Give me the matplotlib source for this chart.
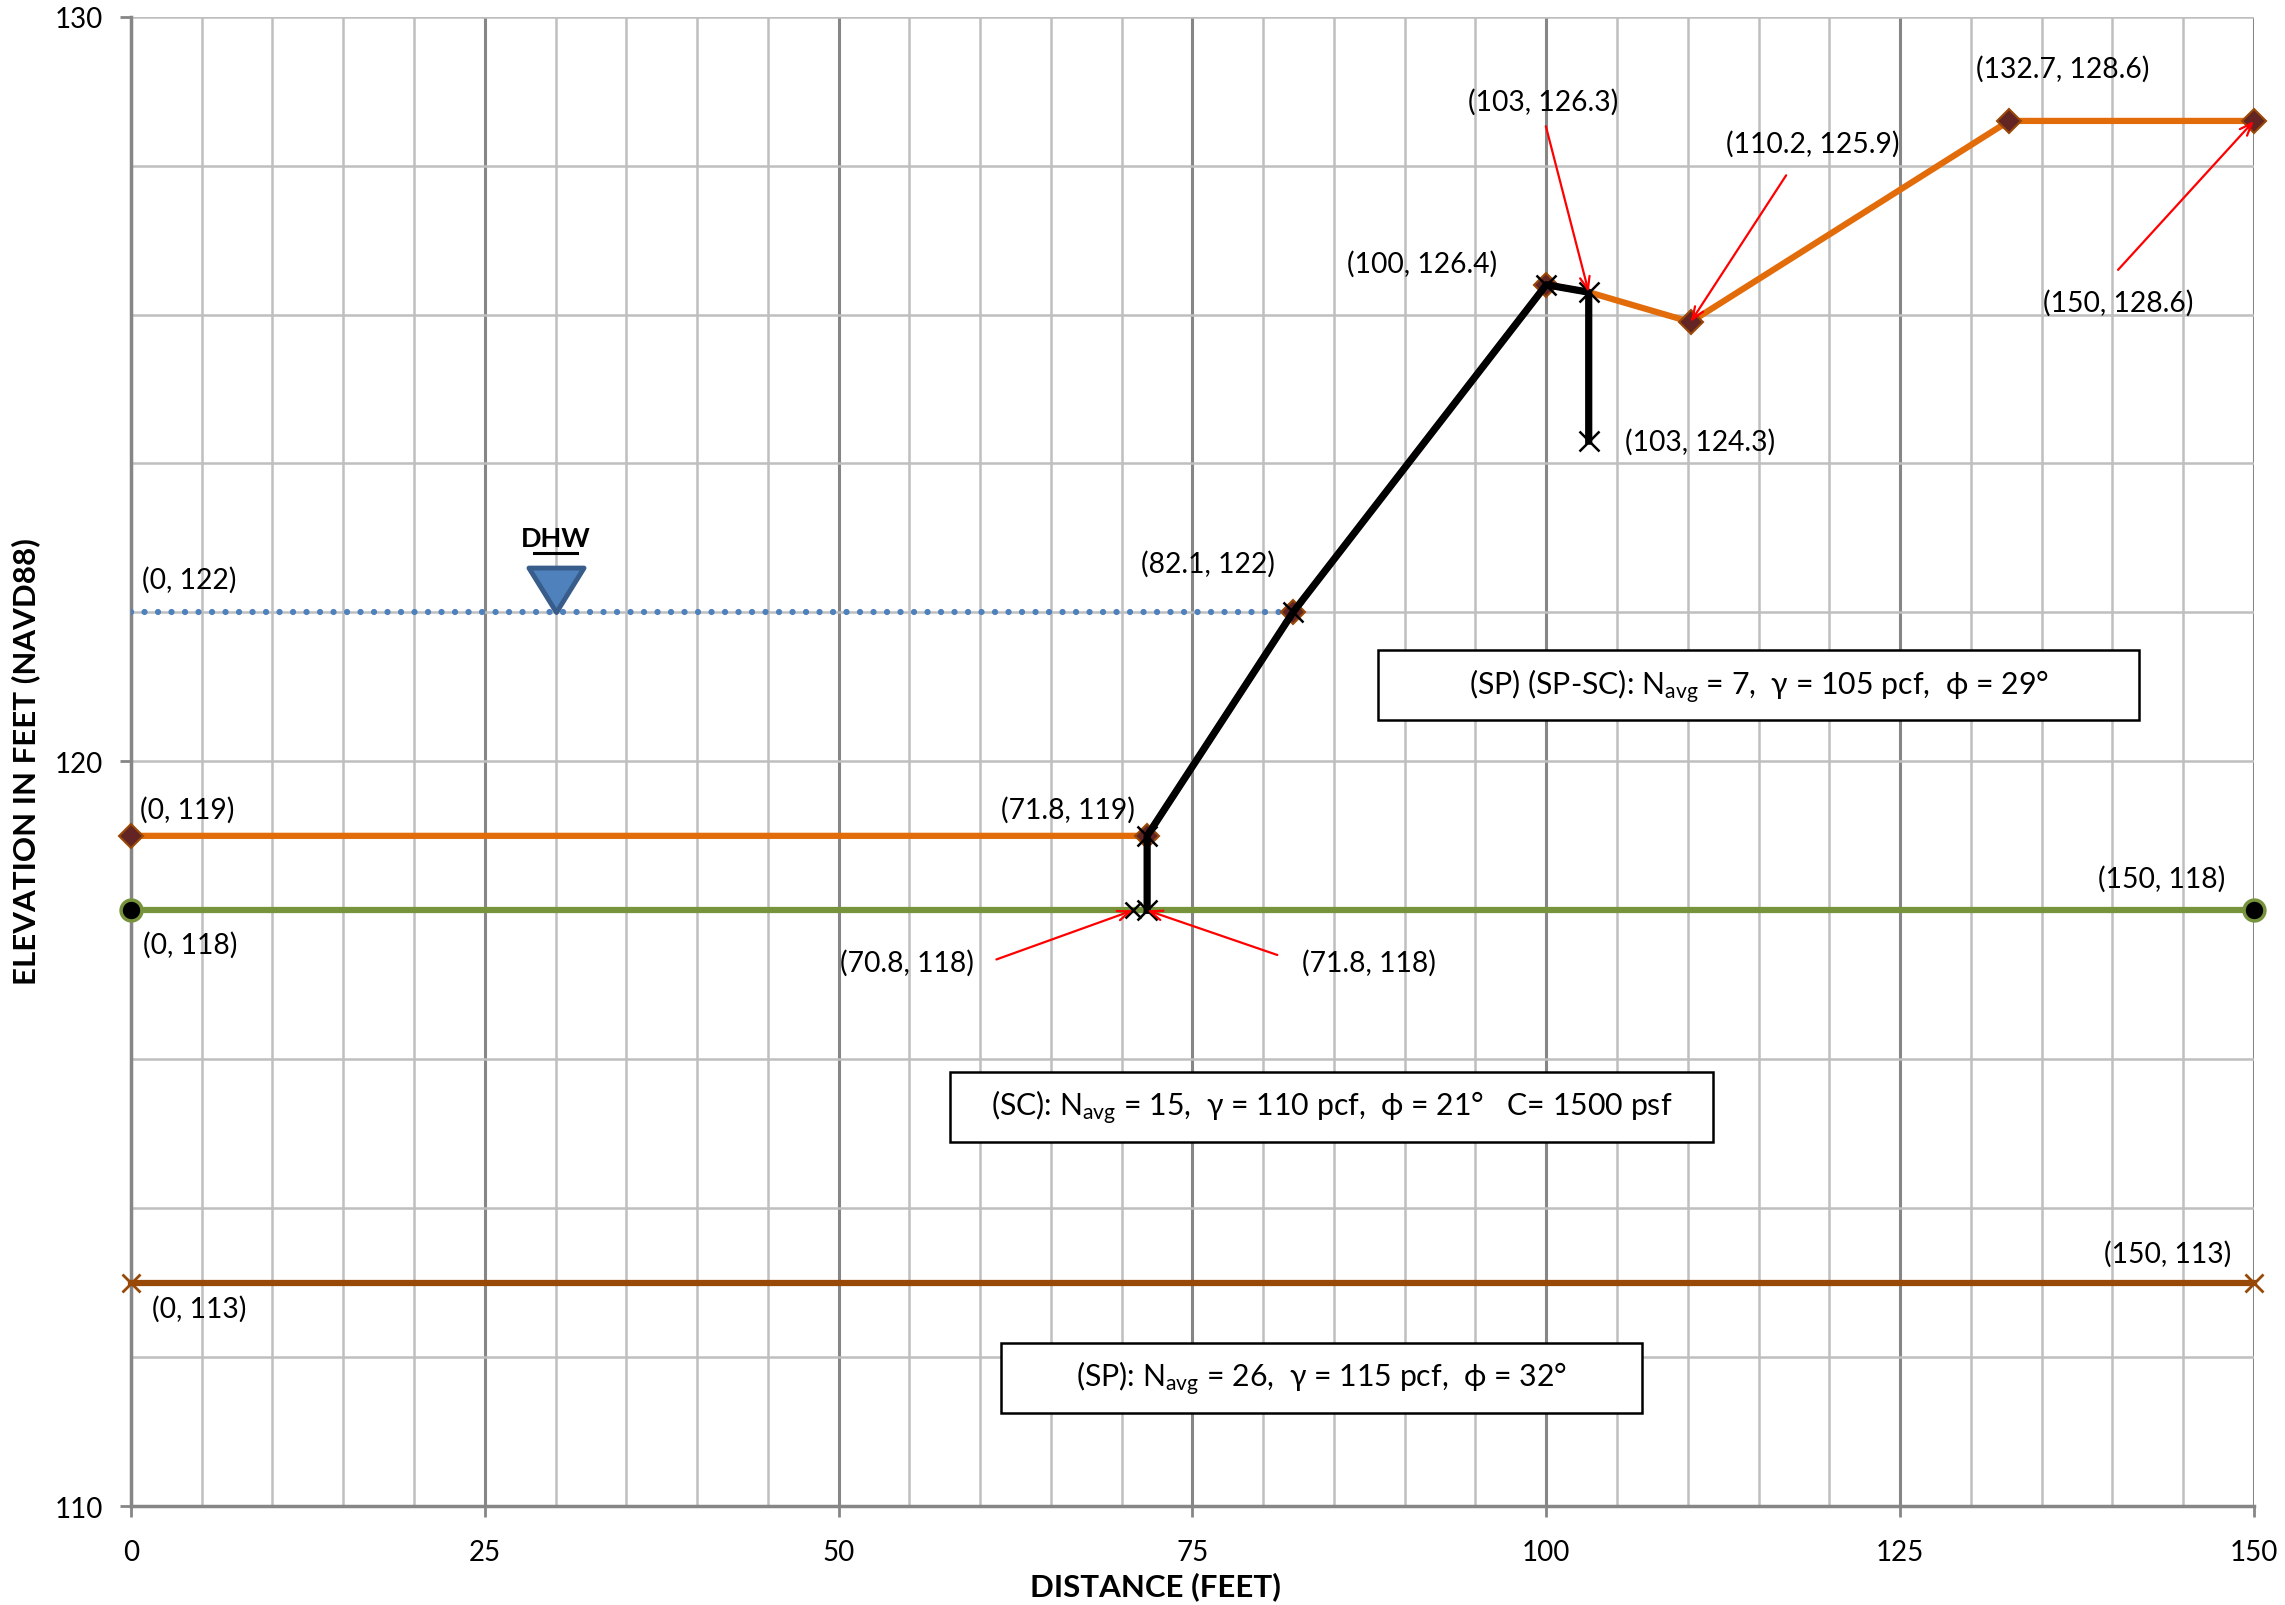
import matplotlib
matplotlib.use("Agg")
import matplotlib.pyplot as plt
from matplotlib.path import Path
from matplotlib.patches import Rectangle

plt.rcParams['font.family'] = ['Lato', 'DejaVu Sans']
plt.rcParams['mathtext.fontset'] = 'custom'
plt.rcParams['mathtext.rm'] = 'Lato'
plt.rcParams['mathtext.it'] = 'Lato'

# ---- profile data (distance ft, elevation ft NAVD88) ----
ground_x = [0, 71.8, 82.1, 100, 103, 110.2, 132.7, 150]
ground_y = [119, 119, 122, 126.4, 126.3, 125.9, 128.6, 128.6]

wall_x = [71.8, 71.8, 82.1, 100, 103, 103]
wall_y = [118, 119, 122, 126.4, 126.3, 124.3]
wall_extra_x = [70.8]
wall_extra_y = [118]

clay_top_x = [0, 150]
clay_top_y = [118, 118]

sand_top_x = [0, 150]
sand_top_y = [113, 113]

dhw_x = [0, 82.1]
dhw_y = [122, 122]
dhw_marker_x = 30
dhw_level = 122

x_ticks = [0, 25, 50, 75, 100, 125, 150]
y_ticks = [110, 120, 130]

# point labels: text, anchor point, label position, arrow?
labels = [
    ("(0, 122)", (0, 122), (4.1, 122.45), False),
    ("(0, 119)", (0, 119), (4.0, 119.35), False),
    ("(0, 118)", (0, 118), (4.2, 117.55), False),
    ("(71.8, 119)", (71.8, 119), (66.2, 119.35), False),
    ("(82.1, 122)", (82.1, 122), (76.1, 122.66), False),
    ("(100, 126.4)", (100, 126.4), (91.2, 126.69), False),
    ("(103, 126.3)", (103, 126.3), (99.8, 128.86), True),
    ("(110.2, 125.9)", (110.2, 125.9), (118.8, 128.3), True),
    ("(132.7, 128.6)", (132.7, 128.6), (136.5, 129.3), False),
    ("(150, 128.6)", (150, 128.6), (140.4, 126.16), True),
    ("(103, 124.3)", (103, 124.3), (110.9, 124.3), False),
    ("(150, 118)", (150, 118), (143.5, 118.43), False),
    ("(70.8, 118)", (70.8, 118), (54.8, 117.3), True),
    ("(71.8, 118)", (71.8, 118), (87.5, 117.3), True),
    ("(150, 113)", (150, 113), (143.9, 113.4), False),
    ("(0, 113)", (0, 113), (4.8, 112.66), False),
]
# arrow tails for labelled points that use a leader
arrow_tails = {
    "(103, 126.3)": (99.97, 128.53),
    "(110.2, 125.9)": (116.95, 127.87),
    "(150, 128.6)": (140.4, 126.6),
    "(70.8, 118)": (61.15, 117.34),
    "(71.8, 118)": (81.0, 117.4),
}

# soil layer descriptions: text, box extents (x0, x1, y0, y1)
layers = [
    (r"(SP) (SP-SC): N$_{\mathrm{avg}}$ = 7,  γ = 105 pcf,  ϕ = 29°", (88.13, 141.87, 120.55, 121.49)),
    (r"(SC): N$_{\mathrm{avg}}$ = 15,  γ = 110 pcf,  ϕ = 21°   C= 1500 psf", (57.86, 111.8, 114.89, 115.83)),
    (r"(SP): N$_{\mathrm{avg}}$ = 26,  γ = 115 pcf,  ϕ = 32°", (61.47, 106.77, 111.25, 112.19)),
]

ORANGE = "#e36c0a"
DIAMOND = "#632523"
DIAMOND_EDGE = "#984807"
GREEN = "#77933c"
BROWN = "#984807"
BLUE = "#4f81bd"
MAJOR = "#868686"
MINOR = "#bfbfbf"

fig = plt.figure(figsize=(22.85, 16.06), dpi=100)
ax = fig.add_axes([0.0573, 0.0616, 0.9291, 0.9274])
ax.set_xlim(0, 150)
ax.set_ylim(110, 130)

# grid
for xv in range(0, 151, 5):
    major = xv % 25 == 0
    ax.axvline(xv, color=MAJOR if major else MINOR, lw=2.2 if major else 1.8, zorder=0)
for yv in range(110, 131, 2):
    ax.axhline(yv, color=MINOR, lw=1.8, zorder=0)

for s in ["top", "right"]:
    ax.spines[s].set_visible(False)
for s in ["left", "bottom"]:
    ax.spines[s].set_color(MAJOR)
    ax.spines[s].set_linewidth(2.5)
    ax.spines[s].set_zorder(1)

ax.set_xticks(x_ticks)
ax.set_yticks(y_ticks)
ax.tick_params(axis="both", length=8, width=2, color=MAJOR, labelsize=20, pad=8)
ax.tick_params(axis="y", pad=12)
ax.tick_params(axis="x", pad=16)

fig.text((131 + 0.4825 * 2123) / 2285, 1 - 1587 / 1606, "DISTANCE (FEET)",
         fontsize=22.5, fontweight="bold", ha="center", va="center")
fig.text(26 / 2285, 1 - 762 / 1606, "ELEVATION IN FEET (NAVD88)", rotation=90,
         fontsize=22.5, fontweight="bold", ha="center", va="center")

# layers
ax.plot(sand_top_x, sand_top_y, color=BROWN, lw=4.5, marker="x", ms=13, mew=2,
        mec=BROWN, zorder=3, clip_on=False)
ax.plot(clay_top_x, clay_top_y, color=GREEN, lw=4.5, marker="o", ms=15,
        mfc="black", mec=GREEN, mew=2.5, zorder=3, clip_on=False)
ax.plot(dhw_x, dhw_y, color=BLUE, lw=4.5, ls=(0, (0.01, 2.15)),
        dash_capstyle="round", zorder=3)
ax.plot(ground_x, ground_y, color=ORANGE, lw=4.5, marker="D", ms=12,
        mfc=DIAMOND, mec=DIAMOND_EDGE, mew=1.5,
        markevery=[0, 1, 2, 3, 5, 6, 7], zorder=4, clip_on=False)
ax.plot(wall_x, wall_y, color="black", lw=5.2, marker="x", ms=15, mew=1.8, zorder=5)
ax.plot(wall_extra_x, wall_extra_y, ls="none", color="black", marker="x", ms=12,
        mew=1.8, zorder=5)

# design high water marker
tri = Path([(-0.62, 1.0), (0.62, 1.0), (0.0, 0.0), (-0.62, 1.0)],
           [Path.MOVETO, Path.LINETO, Path.LINETO, Path.CLOSEPOLY])
ax.plot([dhw_marker_x], [dhw_level], marker=tri, ms=64, mfc=BLUE,
        mec="#385d8a", mew=3.5, ls="none", zorder=6)
ax.text(dhw_marker_x, 123.0, "DHW", fontsize=19.5, fontweight="bold",
        ha="center", va="center", zorder=6)
ax.plot([dhw_marker_x - 1.55, dhw_marker_x + 1.55], [122.8, 122.8],
        color="black", lw=2.2, zorder=6)

# point labels
for text, pt, pos, arrow in labels:
    if arrow:
        tail = arrow_tails[text]
        ax.annotate("", xy=pt, xytext=tail,
                    arrowprops=dict(arrowstyle="->,head_length=0.9,head_width=0.35",
                                    color="red", lw=1.6, shrinkA=0, shrinkB=0),
                    zorder=7)
    ax.text(pos[0], pos[1], text, fontsize=20.3, ha="center", va="center", zorder=8)

# layer descriptions
for text, (x0, x1, y0, y1) in layers:
    ax.add_patch(Rectangle((x0, y0), x1 - x0, y1 - y0, facecolor="white",
                           edgecolor="black", lw=1.8, zorder=8))
    ax.text((x0 + x1) / 2, (y0 + y1) / 2, text, fontsize=21.8,
            ha="center", va="center", zorder=9)

fig.savefig("out.png", dpi=100)
